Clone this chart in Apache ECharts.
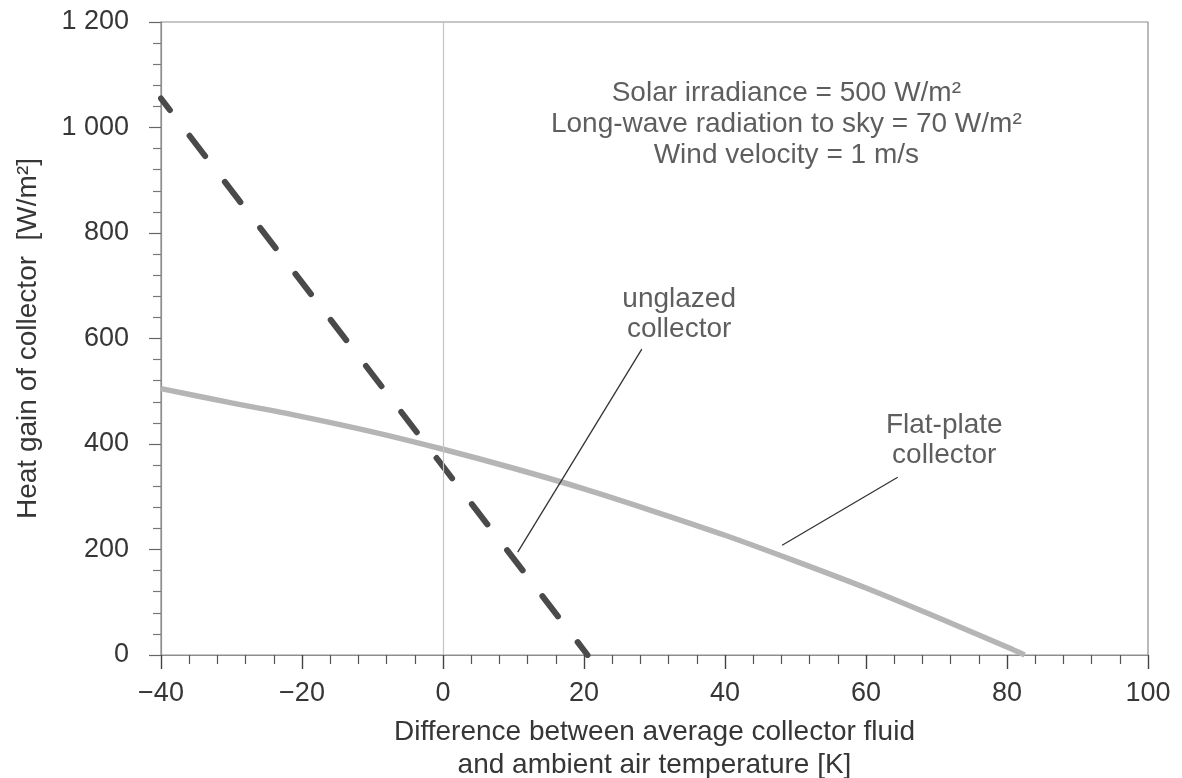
<!DOCTYPE html>
<html>
<head>
<meta charset="utf-8">
<script src="https://cdn.jsdelivr.net/npm/echarts@6/dist/echarts.min.js"></script>
<style>
html,body{margin:0;padding:0;background:#fff;}
#chart{width:1182px;height:778px;}
</style>
</head>
<body>
<div id="chart"></div>
<script>
// ---- data ----
var xTicks = [-40, -20, 0, 20, 40, 60, 80, 100];
var yTicks = [0, 200, 400, 600, 800, 1000, 1200];
var unglazedX = [-40, 20.5];
var unglazedY = [1055, 0];
var flatX = [-40, -30, -20, -10, 0, 10, 20, 30, 40, 50, 60, 70, 80, 82.5];
var flatY = [505, 478, 452, 423, 390, 354, 315, 272, 227, 178, 127, 72, 15, 0];
var noteLines = ["Solar irradiance = 500 W/m²", "Long-wave radiation to sky = 70 W/m²", "Wind velocity = 1 m/s"];
var noteX = [48.7, 48.7, 48.7];
var noteY = [1065, 1006, 948];
var labelTexts = ["unglazed", "collector", "Flat-plate", "collector"];
var labelX = [33.5, 33.5, 71.1, 71.1];
var labelY = [675, 618, 436, 378];
var leaderUnglazed = [[28.2, 580], [10.6, 195]];
var leaderFlat = [[64.5, 337], [48.1, 208]];

var FONT = '"Liberation Sans", Arial, Helvetica, sans-serif';
var TXT = '#363636';

function pairs(xs, ys) { return xs.map(function (x, i) { return [x, ys[i]]; }); }

var textData = [];
noteLines.forEach(function (t, i) { textData.push({ name: t, value: [noteX[i], noteY[i]] }); });
labelTexts.forEach(function (t, i) { textData.push({ name: t, value: [labelX[i], labelY[i]] }); });

var chart = echarts.init(document.getElementById('chart'), null, { renderer: 'canvas' });
chart.setOption({
  animation: false,
  backgroundColor: '#ffffff',
  textStyle: { fontFamily: FONT },
  grid: { left: 161, right: 34, top: 22, bottom: 123, show: true, borderColor: '#8e8e8e', borderWidth: 1.2,
          containLabel: false, outerBoundsMode: 'none' },
  xAxis: {
    type: 'value', min: xTicks[0], max: xTicks[xTicks.length - 1], interval: 20,
    name: 'Difference between average collector fluid\nand ambient air temperature [K]',
    nameLocation: 'middle', nameGap: 61,
    nameTextStyle: { fontSize: 28, color: TXT, fontFamily: FONT, lineHeight: 33 },
    axisLine: { onZero: false, lineStyle: { color: '#8e8e8e', width: 1.2 } },
    axisTick: { show: true, inside: false, length: 14, lineStyle: { color: '#444', width: 1.4 } },
    minorTick: { show: true, splitNumber: 5, length: 9, lineStyle: { color: '#555', width: 1.2 } },
    splitLine: { show: false },
    axisLabel: { fontSize: 27, color: TXT, fontFamily: FONT, margin: 25,
      formatter: function (v) { return v < 0 ? '\u2212' + Math.abs(v) : String(v); } }
  },
  yAxis: {
    type: 'value', min: yTicks[0], max: yTicks[yTicks.length - 1], interval: 200,
    name: 'Heat gain of collector  [W/m²]',
    nameLocation: 'middle', nameGap: 119,
    nameTextStyle: { fontSize: 28, color: TXT, fontFamily: FONT },
    axisLine: { onZero: false, lineStyle: { color: '#8e8e8e', width: 1.2 } },
    axisTick: { show: true, inside: false, length: 12, lineStyle: { color: '#666', width: 1.2 } },
    minorTick: { show: true, splitNumber: 5, length: 8, lineStyle: { color: '#777', width: 1.2 } },
    splitLine: { show: false },
    axisLabel: { fontSize: 27, color: TXT, fontFamily: FONT, margin: 32,
      formatter: function (v) { return v >= 1000 ? Math.floor(v / 1000) + ' ' + String(v % 1000).padStart(3, '0') : String(v); } }
  },
  series: [
    {
      name: 'flat', type: 'line', data: pairs(flatX, flatY), smooth: 0.3, symbol: 'none',
      lineStyle: { color: '#b5b5b5', width: 5.5 }, z: 2,
      markLine: {
        silent: true, symbol: 'none', label: { show: false },
        lineStyle: { color: '#c4c4c4', width: 1.2, type: 'solid' },
        data: [{ xAxis: 0 }]
      }
    },
    {
      name: 'unglazed', type: 'line', data: pairs(unglazedX, unglazedY), symbol: 'none',
      lineStyle: { color: '#4a4a4a', width: 6, type: [25.5, 32.5], dashOffset: 11, cap: 'round' }, z: 3
    },
    {
      name: 'leader1', type: 'line', data: leaderUnglazed, symbol: 'none',
      lineStyle: { color: '#333', width: 1.3 }, z: 4
    },
    {
      name: 'leader2', type: 'line', data: leaderFlat, symbol: 'none',
      lineStyle: { color: '#333', width: 1.3 }, z: 4
    },
    {
      name: 'texts', type: 'scatter', data: textData, symbolSize: 0, z: 5,
      label: { show: true, position: 'inside', formatter: '{b}', fontSize: 28, color: TXT, fontFamily: FONT }
    }
  ]
});
</script>
</body>
</html>
